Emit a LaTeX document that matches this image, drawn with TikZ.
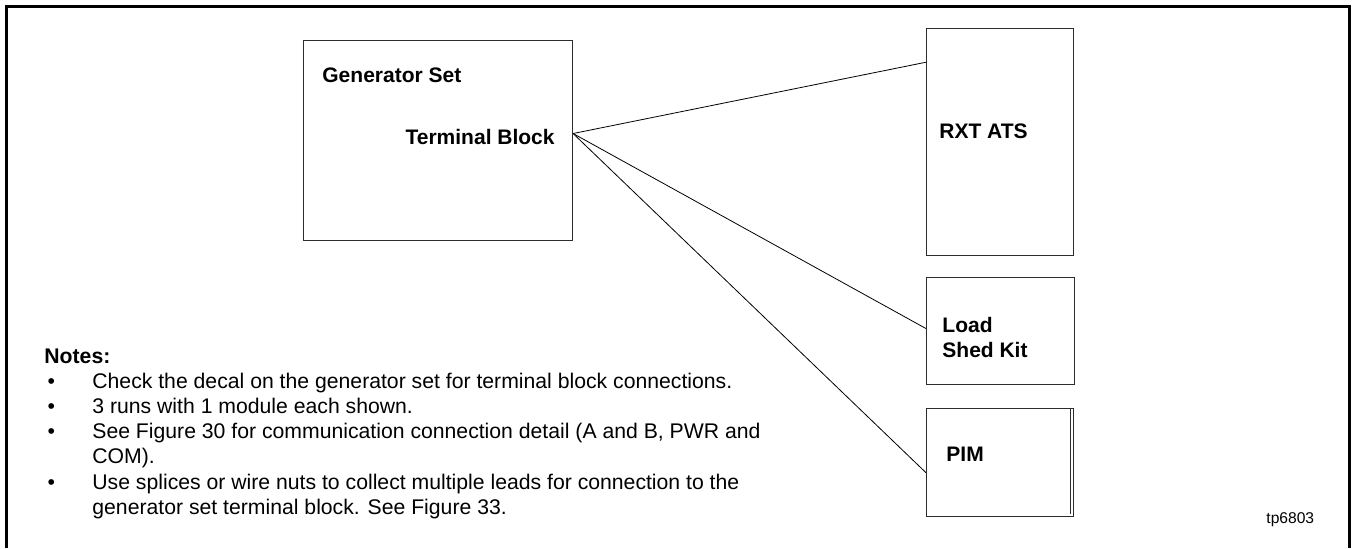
\documentclass[tikz,border=0pt]{standalone}
\usepackage{fontspec}
\setmainfont{Liberation Sans}
\usetikzlibrary{positioning,calc}
\definecolor{boxline}{RGB}{45,45,45}
\newlength{\noteind}
\setlength{\noteind}{24pt}
\newcommand{\nb}{\makebox[\noteind][l]{\hspace*{1.6pt}\textbullet}}

\begin{document}
\begin{tikzpicture}[x=0.5pt,y=-0.5pt,
    unit/.style={draw=boxline,line width=0.55pt,rectangle,inner sep=0pt,
      anchor=north west},
    lbl/.style={font=\fontsize{10.5}{12.6}\selectfont\bfseries,inner sep=0pt},
    wire/.style={draw=black,line width=0.4pt},
    notetxt/.style={font=\fontsize{10.6}{12.6}\selectfont,inner sep=0pt,
      align=left,anchor=north west}]
      \useasboundingbox (0,0) rectangle (1352,548);
      % outer frame (open at the bottom)
      \draw[line width=1.25pt] (6.5,548) -- (6.5,6.5) -- (1349.5,6.5) -- (1349.5,548);

      % units
      \node[unit,minimum width=134.5pt,minimum height=100pt] (gen) at (303,40) {};
      \node[unit,minimum width=73.5pt,minimum height=113.5pt] (rxt) at (926,28) {};
      \node[unit,minimum width=74pt,minimum height=53.5pt] (shed) at (926,277) {};
      \node[unit,minimum width=73.5pt,minimum height=54pt] (pim) at (926,408) {};
      \draw[boxline,line width=0.55pt] ([xshift=-1.6pt]pim.north east) -- ([xshift=-1.6pt,yshift=1.5pt]pim.south east);

      % labels
      \node[lbl,anchor=base west] (genlbl) at (322,82) {Generator Set};
      \node[lbl,anchor=base east] (tblbl) at (555,144) {Terminal Block};
      \node[lbl,anchor=base west] (rxtlbl) at (939,138) {RXT ATS};
      \node[lbl,anchor=north west,align=left] (shedlbl) at (942,317) {Load\\Shed Kit};
      \node[lbl,anchor=base west] (pimlbl) at (946,461) {PIM};
      \node[font=\fontsize{7.8}{9}\selectfont,inner sep=0pt,anchor=base west] (fig) at (1266,523) {tp6803};

      % wiring from the terminal block
      \coordinate (tb) at ($(gen.north east)!0.465!(gen.south east)$);
      \draw[wire] (tb) -- ($(rxt.north west)!0.15!(rxt.south west)$);
      \draw[wire] (tb) -- ($(shed.north west)!0.477!(shed.south west)$);
      \draw[wire] (tb) -- ($(pim.north west)!0.593!(pim.south west)$);

      % notes
      \node[notetxt] (notes) at (44,348) {%
        \textbf{Notes:}\\
        \nb Check the decal on the generator set for terminal block connections.\\
        \nb 3 runs with 1 module each shown.\\
        \nb See Figure 30 for communication connection detail (A and B, PWR and\\
        \hspace*{\noteind}COM).\\
        \nb Use splices or wire nuts to collect multiple leads for connection to the\\
        \hspace*{\noteind}generator set terminal block. See Figure 33.};
    \end{tikzpicture}
\end{document}
